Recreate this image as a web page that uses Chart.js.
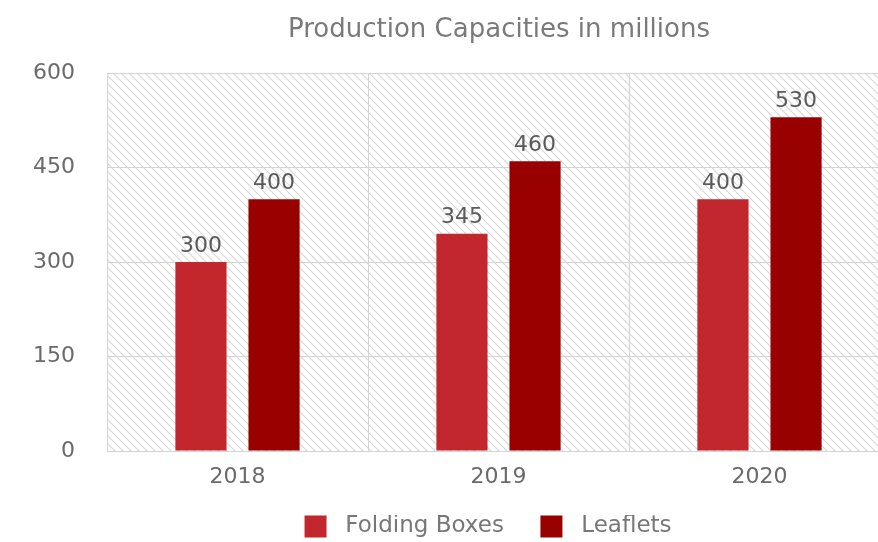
<!DOCTYPE html>
<html>
<head>
<meta charset="utf-8">
<script src="https://cdn.jsdelivr.net/npm/chart.js@4.4.1/dist/chart.umd.min.js"></script>
<style>
  html, body { margin: 0; padding: 0; background: #fff; overflow: hidden; }
  #wrap { width: 878px; height: 542px; overflow: hidden; }
</style>
</head>
<body>
<div id="wrap"><canvas id="chart" width="998" height="548"></canvas></div>
<script>
// chart data
const years = ['2018', '2019', '2020'];
const foldingBoxes = [300, 345, 400];
const leaflets = [400, 460, 530];
const yTicks = [0, 150, 300, 450, 600];

const FONT = "'DejaVu Sans', sans-serif";

// hatched background behind the bars
const hatchPlugin = {
  id: 'hatch',
  beforeDraw(chart) {
    const { ctx, chartArea: a } = chart;
    const p = document.createElement('canvas');
    p.width = 8; p.height = 8;
    const pc = p.getContext('2d');
    pc.strokeStyle = '#d8d8d8';
    pc.lineWidth = 1.2;
    pc.beginPath();
    pc.moveTo(0, 0); pc.lineTo(8, 8);
    pc.moveTo(-4, 4); pc.lineTo(4, 12);
    pc.moveTo(4, -4); pc.lineTo(12, 4);
    pc.stroke();
    ctx.save();
    ctx.fillStyle = ctx.createPattern(p, 'repeat');
    ctx.fillRect(a.left, a.top, a.right - a.left, a.bottom - a.top);
    ctx.restore();
  }
};

// value labels over each bar
const valueLabels = {
  id: 'valueLabels',
  afterDatasetsDraw(chart) {
    const { ctx } = chart;
    ctx.save();
    ctx.font = '22px ' + FONT;
    ctx.fillStyle = '#5a5a5a';
    ctx.textAlign = 'center';
    ctx.textBaseline = 'bottom';
    chart.data.datasets.forEach((ds, i) => {
      chart.getDatasetMeta(i).data.forEach((bar, j) => {
        ctx.fillText(ds.data[j], bar.x, bar.y - 5);
      });
    });
    ctx.restore();
  }
};

new Chart(document.getElementById('chart'), {
  type: 'bar',
  data: {
    labels: years,
    datasets: [
      { label: 'Folding Boxes', data: foldingBoxes, backgroundColor: '#c1272d' },
      { label: 'Leaflets', data: leaflets, backgroundColor: '#990000' }
    ]
  },
  options: {
    responsive: false,
    animation: false,
    devicePixelRatio: 1,
    categoryPercentage: 0.56,
    barPercentage: 0.7,
    layout: { padding: { left: 0, right: 0, top: 15, bottom: 0 } },
    plugins: {
      title: {
        display: true,
        text: 'Production Capacities in millions',
        color: '#7a7a7a',
        font: { family: FONT, size: 26, weight: 'normal' },
        padding: { top: 0, bottom: 27 }
      },
      legend: {
        position: 'bottom',
        labels: {
          color: '#777',
          font: { family: FONT, size: 23 },
          boxWidth: 22,
          boxHeight: 22,
          padding: 0,
          generateLabels(chart) {
            const items = Chart.defaults.plugins.legend.labels.generateLabels(chart);
            items[0].text = ' ' + items[0].text + '     ';
            items[1].text = ' ' + items[1].text + '   ';
            return items;
          }
        }
      },
      tooltip: { enabled: false }
    },
    scales: {
      x: {
        afterFit(scale) { scale.height = 64; },
        grid: { color: '#d4d4d4', drawTicks: false },
        border: { color: '#d4d4d4' },
        ticks: { color: '#6a6a6a', font: { family: FONT, size: 22 }, padding: 13 }
      },
      y: {
        min: 0,
        max: 600,
        afterBuildTicks(scale) { scale.ticks = yTicks.map(v => ({ value: v })); },
        afterFit(scale) { scale.width = 107; },
        grid: { color: '#d4d4d4', drawTicks: false },
        border: { color: '#d4d4d4' },
        ticks: { color: '#6a6a6a', font: { family: FONT, size: 22 }, padding: 32 }
      },
      // empty right-hand axis that keeps the plot cut off at the same place
      yRight: {
        position: 'right',
        afterFit(scale) { scale.width = 108; },
        grid: { display: false },
        border: { display: false },
        ticks: { display: false }
      }
    }
  },
  plugins: [hatchPlugin, valueLabels]
});
</script>
</body>
</html>
